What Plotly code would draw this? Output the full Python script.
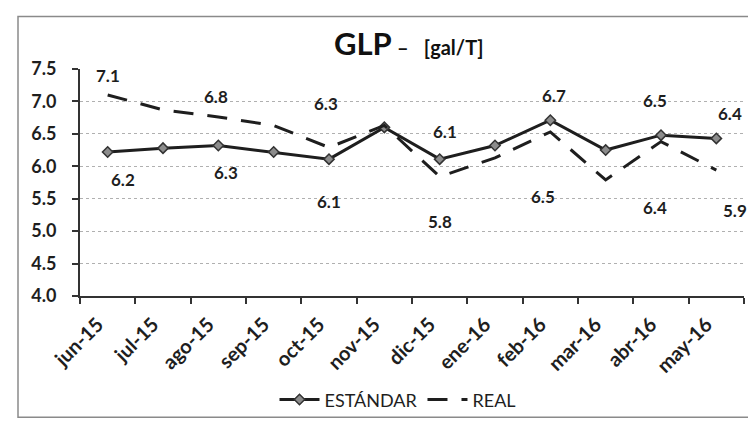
import plotly.graph_objects as go

months = ["jun-15", "jul-15", "ago-15", "sep-15", "oct-15", "nov-15",
          "dic-15", "ene-16", "feb-16", "mar-16", "abr-16", "may-16"]
estandar = [6.22, 6.28, 6.32, 6.22, 6.11, 6.60, 6.11, 6.32, 6.71, 6.25, 6.48, 6.43]
real = [7.10, 6.87, 6.76, 6.63, 6.29, 6.63, 5.84, 6.13, 6.53, 5.79, 6.38, 5.94]
y_ticks = [4.0, 4.5, 5.0, 5.5, 6.0, 6.5, 7.0, 7.5]
labeled_idx = [0, 2, 4, 6, 8, 10, 11]

# label placement (pixel offsets, style only)
real_lbl_shift = [(0, 19), (-2, 20), (-3, 44), (0, -45), (-7, -65), (-6, -66), (19, -40)]
est_lbl_shift = [(15, -27), (8, -27), (0, -42), (5, 28), (4, 25), (-6, 35), (14, 25)]

FONT = "Lato, 'Open Sans', sans-serif"
DARK = "#1e1e1e"

fig = go.Figure()
fig.add_trace(go.Scatter(
    x=months, y=estandar, name="ESTÁNDAR", mode="lines+markers",
    line=dict(color=DARK, width=3),
    marker=dict(symbol="diamond", size=8, color="#8c8c8c",
                line=dict(color="#333333", width=1.5)),
))
fig.add_trace(go.Scatter(
    x=months, y=real, name="REAL", mode="lines",
    line=dict(color=DARK, width=3, dash="20px,14px"),
))

annotations = []
for k, i in enumerate(labeled_idx):
    dx, dy = real_lbl_shift[k]
    annotations.append(dict(x=months[i], y=real[i], xref="x", yref="y",
                            text=f"<b>{real[i]:.1f}</b>", showarrow=False,
                            xshift=dx, yshift=dy,
                            font=dict(family=FONT, size=17, color=DARK)))
    dx, dy = est_lbl_shift[k]
    annotations.append(dict(x=months[i], y=estandar[i], xref="x", yref="y",
                            text=f"<b>{estandar[i]:.1f}</b>", showarrow=False,
                            xshift=dx, yshift=dy,
                            font=dict(family=FONT, size=17, color=DARK)))

L, R, T, B = 72, 20, 61, 127
W, H = 756, 422
pw, ph = W - L - R, H - T - B

fig.update_layout(
    width=W, height=H,
    margin=dict(l=L, r=R, t=T, b=B, pad=0),
    paper_bgcolor="white", plot_bgcolor="white",
    font=dict(family=FONT, color=DARK),
    title=dict(
        text="<b>GLP</b><span style='font-size:20px'> <b>–</b>   <b>[gal/T]</b></span>",
        x=0.53, xanchor="center", y=0.915, yanchor="middle",
        font=dict(family=FONT, size=31, color="#111111"),
    ),
    showlegend=True,
    legend=dict(orientation="h", x=(390 - L) / pw, xanchor="center",
                y=(295 - 402) / ph, yanchor="middle",
                font=dict(family=FONT, size=18, color=DARK),
                itemwidth=40, bgcolor="rgba(0,0,0,0)"),
    annotations=annotations,
    shapes=[dict(type="rect", xref="paper", yref="paper",
                 x0=(10 - L) / pw, x1=(770 - L) / pw,
                 y0=(295 - 420) / ph, y1=(295 - 7) / ph,
                 line=dict(color="#8a8a8a", width=1.5), layer="below")],
)
fig.update_xaxes(
    type="category", categoryorder="array", categoryarray=months,
    range=[-0.5, len(months) - 0.5],
    tickvals=months, ticktext=[f"<b>{m}</b>" for m in months],
    showline=True, linecolor="#333333", linewidth=2,
    ticks="outside", tickson="boundaries", ticklen=6, tickwidth=2, tickcolor="#333333",
    tickangle=-45, showgrid=False,
    ticklabelstandoff=7, ticklabelshift=-10,
    tickfont=dict(family=FONT, size=20, color=DARK),
)
fig.update_yaxes(
    range=[4.0, 7.5], tickvals=y_ticks, ticktext=[f"<b>{v:.1f}</b>" for v in y_ticks],
    showline=True, linecolor="#333333", linewidth=2,
    ticks="outside", ticklen=6, tickwidth=2, tickcolor="#333333",
    ticklabelstandoff=12,
    showgrid=True, gridcolor="#b0b0b0", gridwidth=1, griddash="dot",
    zeroline=False,
    tickfont=dict(family=FONT, size=18, color=DARK),
)

fig.write_html("out.html")
